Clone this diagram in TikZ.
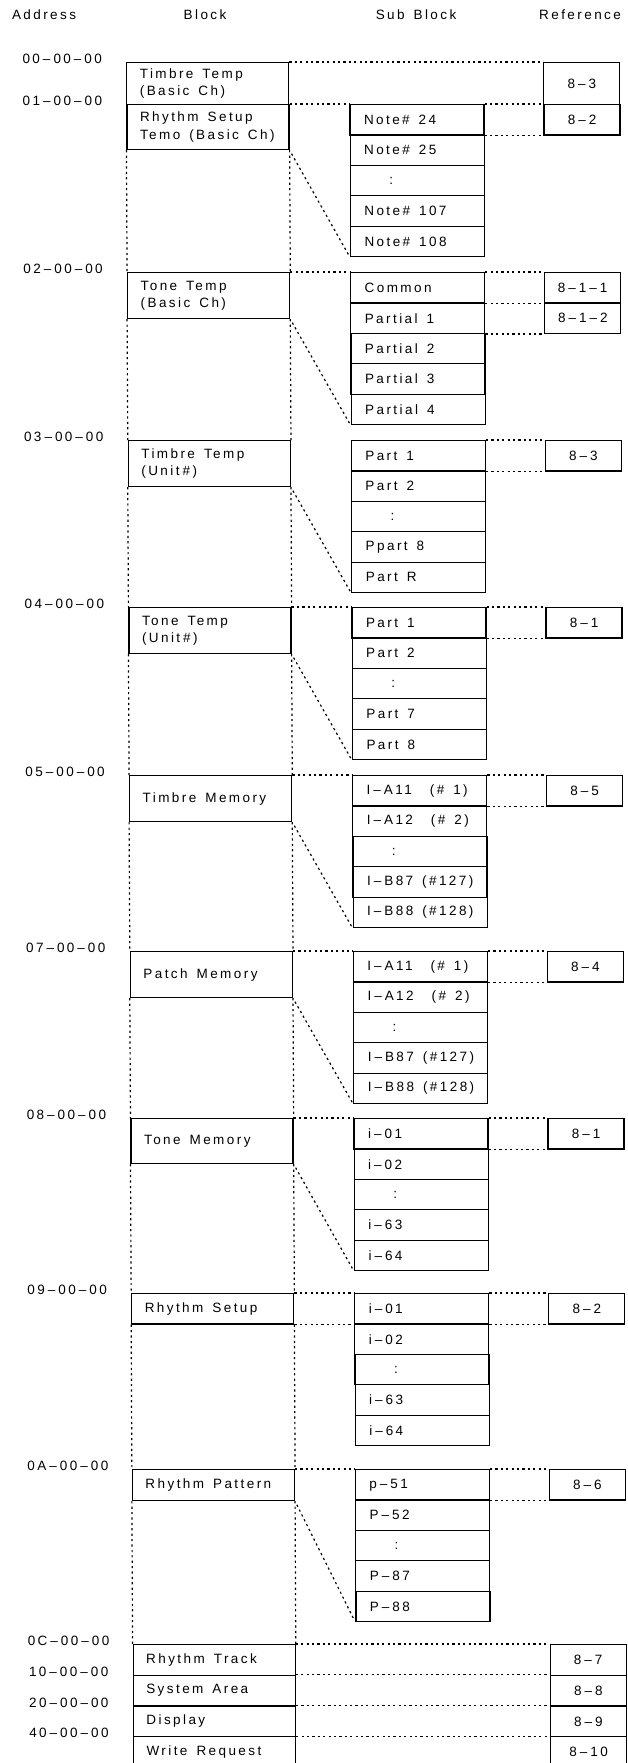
\documentclass[tikz,border=0pt]{standalone}
\usepackage{fontspec}
\setmainfont{Liberation Sans}[LetterSpace=18]
\newcommand\myfont{\fontsize{13.5}{17.5}\selectfont\fontdimen2\font=7.5pt\fontdimen3\font=1pt\fontdimen4\font=0.5pt\relax}
\newcommand\dotsrow{\hspace*{25pt}:}
\newcommand\dd{\hspace{3pt}–\hspace{3pt}}
\newcommand\gap{\hspace{9pt}}
\newcommand\subcol[3]{%
  \foreach \t [count=\i from 0] in {#3}{%
    \node[subbox] (#1-\i) at (349,{#2+\i*30.4}) {\t};}}
\tikzset{
  boxline/.style={draw, line width=1.2pt},
  blk/.style={boxline, anchor=north west, minimum width=162pt, inner xsep=13pt, inner ysep=0pt, text width=136pt, align=left},
  subbox/.style={boxline, anchor=north west, minimum width=134pt, minimum height=30.4pt, inner xsep=14pt, inner ysep=0pt, text width=106pt, align=left},
  refbox/.style={boxline, anchor=north west, minimum width=76pt, minimum height=30.4pt, inner xsep=0pt, inner ysep=0pt, text width=70pt, align=center},
  addr/.style={inner sep=0pt},
  hdr/.style={inner sep=0pt},
  dl/.style={line width=1.2pt, dash pattern=on 2.2pt off 3.2pt},
  diag/.style={dl, shorten <=4pt, shorten >=2pt},
}
\begin{document}
\begin{tikzpicture}[x=1pt,y=-1pt,font=\myfont]
\useasboundingbox (0,0) rectangle (628,1763);
\begin{scope}[xslant=-0.004]
% headers
\node[hdr] (hAddr) at (44,15) {Address};
\node[hdr] (hBlk) at (205,15) {Block};
\node[hdr] (hSub) at (416,15) {Sub\gap Block};
\node[hdr] (hRef) at (580,15) {Reference};

% ---------- section 1
\node[addr] (a1) at (62,59) {00\dd00\dd00};
\node[addr] (a2) at (62,101) {01\dd00\dd00};
\node[blk, minimum height=42pt] (b1a) at (126,62) {Timbre\gap Temp\\(Basic\gap Ch)};
\node[blk, minimum height=45pt] (b1b) at (126,104) {Rhythm\gap Setup\\Temo\gap (Basic\gap Ch)};
\subcol{s1}{104}{Note\#\gap 24, Note\#\gap 25, \dotsrow, Note\#\gap 107, Note\#\gap 108}
\node[refbox, minimum height=42pt] (r1a) at (543,62) {8\dd3};
\node[refbox] (r1b) at (543,104) {8\dd2};
\draw[dl] (b1a.north east) -- (r1a.north west);
\draw[dl] (b1b.north east) -- (s1-0.north west);
\draw[dl] (s1-0.north east) -- (r1b.north west);
\draw[dl] (s1-0.south east) -- (r1b.south west);
\draw[diag] (b1b.south east) -- (s1-4.south west);

% ---------- section 2
\node[addr] (a3) at (62,269) {02\dd00\dd00};
\node[blk, minimum height=46pt] (b2) at (126,272) {Tone\gap Temp\\(Basic\gap Ch)};
\subcol{s2}{272}{Common, Partial\gap 1, Partial\gap 2, Partial\gap 3, Partial\gap 4}
\node[refbox] (r2a) at (543,272) {8\dd1\dd1};
\node[refbox] (r2b) at (543,302.4) {8\dd1\dd2};
\draw[dl] (b2.north east) -- (s2-0.north west);
\draw[dl] (s2-0.north east) -- (r2a.north west);
\draw[dl] (s2-0.south east) -- (r2a.south west);
\draw[dl] (s2-1.south east) -- (r2b.south west);
\draw[diag] (b2.south east) -- (s2-4.south west);
\draw[dl] (b1b.south west) -- (b2.north west);
\draw[dl] (b1b.south east) -- (b2.north east);

% ---------- section 3
\node[addr] (a4) at (62,437) {03\dd00\dd00};
\node[blk, minimum height=46pt] (b3) at (126,440) {Timbre\gap Temp\\(Unit\hspace{3pt}\#)};
\subcol{s3}{440}{Part\gap 1, Part\gap 2, \dotsrow, Ppart\gap 8, Part\gap R}
\node[refbox] (r3) at (543,440) {8\dd3};
\draw[dl] (s3-0.north east) -- (r3.north west);
\draw[dl] (s3-0.south east) -- (r3.south west);
\draw[diag] (b3.south east) -- (s3-4.south west);
\draw[dl] (b2.south west) -- (b3.north west);
\draw[dl] (b2.south east) -- (b3.north east);

% ---------- section 4
\node[addr] (a5) at (62,604) {04\dd00\dd00};
\node[blk, minimum height=46pt] (b4) at (126,607) {Tone\gap Temp\\(Unit\hspace{3pt}\#)};
\subcol{s4}{607}{Part\gap 1, Part\gap 2, \dotsrow, Part\gap 7, Part\gap 8}
\node[refbox] (r4) at (543,607) {8\dd1};
\draw[dl] (b4.north east) -- (s4-0.north west);
\draw[dl] (s4-0.north east) -- (r4.north west);
\draw[dl] (s4-0.south east) -- (r4.south west);
\draw[diag] (b4.south east) -- (s4-4.south west);
\draw[dl] (b3.south west) -- (b4.north west);
\draw[dl] (b3.south east) -- (b4.north east);

% ---------- section 5
\node[addr] (a6) at (62,772) {05\dd00\dd00};
\node[blk, minimum height=46pt] (b5) at (126,775) {Timbre\gap Memory};
\subcol{s5}{775}{I\dd A11\gap\gap(\#\gap 1), I\dd A12\gap\gap(\#\gap 2), \dotsrow, I\dd B87\gap(\#127), I\dd B88\gap(\#128)}
\node[refbox] (r5) at (543,775) {8\dd5};
\draw[dl] (b5.north east) -- (s5-0.north west);
\draw[dl] (s5-0.north east) -- (r5.north west);
\draw[dl] (s5-0.south east) -- (r5.south west);
\draw[diag] (b5.south east) -- (s5-4.south west);
\draw[dl] (b4.south west) -- (b5.north west);
\draw[dl] (b4.south east) -- (b5.north east);

% ---------- section 6
\node[addr] (a7) at (62,948) {07\dd00\dd00};
\node[blk, minimum height=46pt] (b6) at (126,951) {Patch\gap Memory};
\subcol{s6}{951}{I\dd A11\gap\gap(\#\gap 1), I\dd A12\gap\gap(\#\gap 2), \dotsrow, I\dd B87\gap(\#127), I\dd B88\gap(\#128)}
\node[refbox] (r6) at (543,951) {8\dd4};
\draw[dl] (b6.north east) -- (s6-0.north west);
\draw[dl] (s6-0.north east) -- (r6.north west);
\draw[dl] (s6-0.south east) -- (r6.south west);
\draw[diag] (b6.south east) -- (s6-4.south west);
\draw[dl] (b5.south west) -- (b6.north west);
\draw[dl] (b5.south east) -- (b6.north east);

% ---------- section 7
\node[addr] (a8) at (62,1115) {08\dd00\dd00};
\node[blk, minimum height=45pt] (b7) at (126,1118) {Tone\gap Memory};
\subcol{s7}{1118}{i\dd01, i\dd02, \dotsrow, i\dd63, i\dd64}
\node[refbox] (r7) at (543,1118) {8\dd1};
\draw[dl] (b7.north east) -- (s7-0.north west);
\draw[dl] (s7-0.north east) -- (r7.north west);
\draw[dl] (s7-0.south east) -- (r7.south west);
\draw[diag] (b7.south east) -- (s7-4.south west);
\draw[dl] (b6.south west) -- (b7.north west);
\draw[dl] (b6.south east) -- (b7.north east);

% ---------- section 8
\node[addr] (a9) at (62,1290) {09\dd00\dd00};
\node[blk, minimum height=30.4pt] (b8) at (126,1293) {Rhythm\gap Setup};
\subcol{s8}{1293}{i\dd01, i\dd02, \dotsrow, i\dd63, i\dd64}
\node[refbox] (r8) at (543,1293) {8\dd2};
\draw[dl] (b8.north east) -- (s8-0.north west);
\draw[dl] (b8.south east) -- (s8-0.south west);
\draw[dl] (s8-0.north east) -- (r8.north west);
\draw[dl] (s8-0.south east) -- (r8.south west);
\draw[dl] (b7.south west) -- (b8.north west);
\draw[dl] (b7.south east) -- (b8.north east);

% ---------- section 9
\node[addr] (a10) at (62,1466) {0A\dd00\dd00};
\node[blk, minimum height=31pt] (b9) at (126,1469) {Rhythm\gap Pattern};
\subcol{s9}{1469}{p\dd51, P\dd52, \dotsrow, P\dd87, P\dd88}
\node[refbox] (r9) at (543,1469) {8\dd6};
\draw[dl] (b9.north east) -- (s9-0.north west);
\draw[dl] (s9-0.north east) -- (r9.north west);
\draw[dl] (s9-0.south east) -- (r9.south west);
\draw[diag] (b9.south east) -- (s9-4.south west);
\draw[dl] (b8.south west) -- (b9.north west);
\draw[dl] (b8.south east) -- (b9.north east);

% ---------- section 10
\node[addr] (a11) at (62,1641) {0C\dd00\dd00};
\node[addr] (a12) at (62,1672) {10\dd00\dd00};
\node[addr] (a13) at (62,1703) {20\dd00\dd00};
\node[addr] (a14) at (62,1733) {40\dd00\dd00};
\node[blk, minimum height=30.7pt] (b10a) at (126,1644) {Rhythm\gap Track};
\node[blk, minimum height=30.7pt] (b10b) at (126,1674.7) {System\gap Area};
\node[blk, minimum height=30.7pt] (b10c) at (126,1705.4) {Display};
\node[blk, minimum height=31pt] (b10d) at (126,1736.1) {Write\gap Request};
\node[refbox, minimum height=30.7pt] (r10a) at (543,1644) {8\dd7};
\node[refbox, minimum height=30.7pt] (r10b) at (543,1674.7) {8\dd8};
\node[refbox, minimum height=30.7pt] (r10c) at (543,1705.4) {8\dd9};
\node[refbox, minimum height=31pt] (r10d) at (543,1736.1) {8\dd10};
\draw[dl] (b10a.north east) -- (r10a.north west);
\draw[dl] (b10b.north east) -- (r10b.north west);
\draw[dl] (b10c.north east) -- (r10c.north west);
\draw[dl] (b10d.north east) -- (r10d.north west);
\draw[dl] (b9.south west) -- (b10a.north west);
\draw[dl] (b9.south east) -- (b10a.north east);
\end{scope}
\end{tikzpicture}
\end{document}
